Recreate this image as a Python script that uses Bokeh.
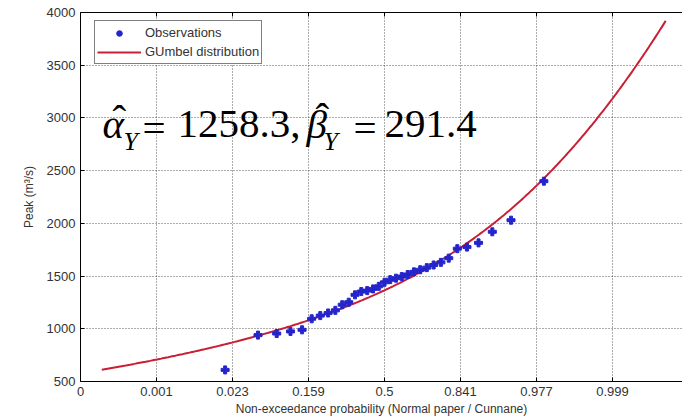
import math
import numpy as np
from bokeh.plotting import figure
from bokeh.models import (ColumnDataSource, FixedTicker, Range1d, LinearAxis,
                          Legend, LegendItem, Label)
from bokeh.embed import file_html
from bokeh.resources import INLINE

# Fitted Gumbel parameters (location, scale)
alpha_hat = 1258.3
beta_hat = 291.4

# Sorted annual peaks (m3/s) with Cunnane non-exceedance probabilities
peak = [610, 940, 955, 975, 990, 1095, 1125, 1150, 1175, 1228, 1252,
        1322, 1353, 1362, 1378, 1403, 1441, 1466, 1480, 1495, 1515, 1540,
        1560, 1580, 1605, 1630, 1670, 1760, 1775, 1815, 1920, 2030, 2400]
prob = [0.018, 0.048, 0.078, 0.108, 0.139, 0.169, 0.199, 0.229, 0.259,
        0.289, 0.319, 0.349, 0.380, 0.410, 0.440, 0.470, 0.500, 0.530,
        0.560, 0.590, 0.620, 0.651, 0.681, 0.711, 0.741, 0.771, 0.801,
        0.831, 0.861, 0.892, 0.922, 0.952, 0.982]

# Normal-probability paper: axis runs in standard-normal units
tick_z = [-4, -3, -2, -1, 0, 1, 2, 3, 4]
tick_labels = ["0", "0.001", "0.023", "0.159", "0.5", "0.841", "0.977", "0.999", "1"]
y_ticks = [500, 1000, 1500, 2000, 2500, 3000, 3500, 4000]

# extent of the fitted curve on the normal scale
curve_z_start, curve_z_end = -3.72, 3.70


def phi(z):
    return 0.5 * (1.0 + math.erf(z / math.sqrt(2.0)))


def phi_inv(p):
    lo, hi = -10.0, 10.0
    for _ in range(100):
        mid = 0.5 * (lo + hi)
        if phi(mid) < p:
            lo = mid
        else:
            hi = mid
    return 0.5 * (lo + hi)


obs_z = [phi_inv(q) for q in prob]
obs_src = ColumnDataSource(data=dict(z=obs_z, peak=peak))

cz = np.linspace(curve_z_start, curve_z_end, 400)
cp = np.array([phi(v) for v in cz])
cy = alpha_hat - beta_hat * np.log(-np.log(cp))
curve_src = ColumnDataSource(data=dict(z=cz, y=cy))

X0, X1, Y0, Y1 = -4.0, 3.921, 500, 4000
FRAME_L, FRAME_T, FRAME_B, PX_PER_Z = 80, 12, 381, 76.0

p = figure(width=682, height=419, output_backend="svg", toolbar_location=None,
           x_range=Range1d(X0, X1), y_range=Range1d(Y0, Y1),
           min_border_left=FRAME_L, min_border_right=0,
           min_border_top=FRAME_T, min_border_bottom=419 - FRAME_B)
p.outline_line_color = None
p.background_fill_color = "white"
p.border_fill_color = "white"

xt = FixedTicker(ticks=tick_z)
yt = FixedTicker(ticks=y_ticks)

for ax in (p.xaxis[0], p.yaxis[0]):
    ax.axis_line_color = "black"
    ax.major_tick_line_color = "black"
    ax.major_tick_in = 4
    ax.major_tick_out = 0
    ax.minor_tick_line_color = None
    ax.major_label_text_font = "Liberation Sans"
    ax.major_label_text_font_size = "13px"
    ax.major_label_text_color = "#333333"
    ax.axis_label_text_font = "Liberation Sans"
    ax.axis_label_text_font_size = "12px"
    ax.axis_label_text_font_style = "normal"
    ax.axis_label_text_color = "#333333"

p.xaxis.ticker = xt
p.xaxis.major_label_overrides = {z: lab for z, lab in zip(tick_z, tick_labels)}
p.xaxis.major_label_standoff = 5
p.xaxis.axis_label = "Non-exceedance probability (Normal paper / Cunnane)"
p.xaxis.axis_label_standoff = 3

p.yaxis.ticker = yt
p.yaxis.major_label_standoff = 5
p.yaxis.axis_label = "Peak (m³/s)"
p.yaxis.axis_label_standoff = 8

# box edge along the top with inward ticks, no labels
top = LinearAxis(ticker=xt, major_label_text_font_size="1px",
                 major_label_overrides={z: "" for z in tick_z},
                 major_label_standoff=0, major_tick_in=4, major_tick_out=0,
                 minor_tick_line_color=None, axis_line_color="black")
p.add_layout(top, "above")

for g, t in ((p.xgrid[0], xt), (p.ygrid[0], yt)):
    g.ticker = t
    g.grid_line_color = "#222222"
    g.grid_line_alpha = 0.75
    g.grid_line_dash = "1 2"
    g.grid_line_width = 1

blue = "#2424cc"
red = "#c81f35"

r_curve = p.line("z", "y", source=curve_src, line_color=red, line_width=2)
p.scatter("z", "peak", source=obs_src, marker="plus", size=8,
          fill_color=blue, line_color=blue)
# zero-size dots on the observations: only their legend swatch shows
r_dot = p.scatter("z", "peak", source=obs_src, marker="circle", size=0,
                  fill_color=blue, line_color=blue)

legend = Legend(items=[LegendItem(label="Observations", renderers=[r_dot]),
                       LegendItem(label="GUmbel distribution", renderers=[r_curve])],
                location=(14, 317), margin=0, padding=2, spacing=0,
                glyph_width=44, glyph_height=14, label_height=19,
                label_standoff=4, label_text_font="Liberation Sans",
                label_text_font_size="13px", label_text_color="#333333",
                border_line_color="black", border_line_width=1,
                background_fill_color="white", background_fill_alpha=1)
p.add_layout(legend)


def at(px, py):
    """Page pixel position -> data coordinates."""
    return (X0 + (px - FRAME_L) / PX_PER_Z,
            Y0 + (FRAME_B - py) * (Y1 - Y0) / (FRAME_B - FRAME_T))


def put(text, px, py, size, style="normal"):
    # py is the intended baseline; the box is anchored a bit higher
    x, y = at(px, py - 0.35 * size)
    p.add_layout(Label(x=x, y=y, text=text, text_font="Liberation Serif",
                       text_font_size=f"{size}px", text_font_style=style,
                       text_color="black", text_align="left",
                       text_baseline="alphabetic"))


put("\u03b1", 102, 138, 41, "italic")
put("\u02c6", 112, 133, 41)
put("Y", 123, 150, 26, "italic")
put("=", 142, 142, 41)
put(f"{alpha_hat:.1f},", 177, 138, 41)
put("\u03b2", 306, 138, 41, "italic")
put("\u02c6", 315, 131, 41)
put("Y", 323, 150, 26, "italic")
put("=", 353, 142, 41)
put(f"{beta_hat:.1f}", 384, 138, 41)

open("out.html", "w").write(file_html(p, INLINE))
